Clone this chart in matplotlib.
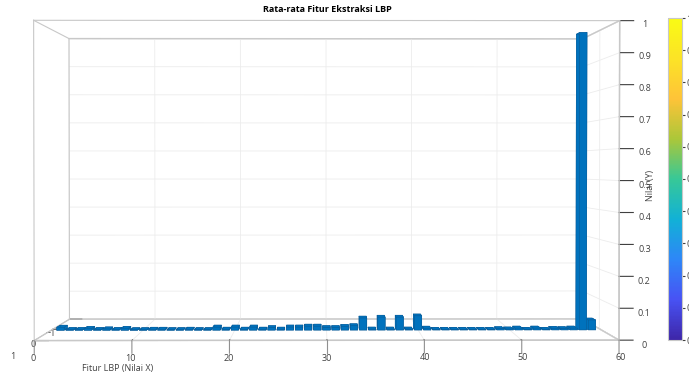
import numpy as np
import matplotlib
matplotlib.use("Agg")
import matplotlib.pyplot as plt
from matplotlib.colors import LinearSegmentedColormap

plt.rcParams['font.family'] = ['Open Sans', 'DejaVu Sans']
plt.rcParams['grid.color'] = '#ececec'
plt.rcParams['grid.linewidth'] = 0.6

# rata-rata histogram LBP (59 bin)
fitur = np.arange(1, 60)
nilai = [0.010, 0.002, 0.002, 0.006, 0.002, 0.004, 0.002, 0.006, 0.001, 0.001,
         0.003, 0.003, 0.001, 0.001, 0.003, 0.001, 0.001, 0.010, 0.003, 0.010,
         0.003, 0.010, 0.003, 0.008, 0.003, 0.010, 0.010, 0.013, 0.013, 0.008,
         0.008, 0.012, 0.014, 0.040, 0.003, 0.043, 0.003, 0.043, 0.003, 0.047,
         0.006, 0.002, 0.002, 0.002, 0.002, 0.002, 0.002, 0.002, 0.004, 0.003,
         0.006, 0.002, 0.006, 0.002, 0.005, 0.004, 0.006, 0.990, 0.033]
x_ticks = [0, 10, 20, 30, 40, 50, 60]
y_ticks = [-1, 0, 1]
z_ticks = np.round(np.arange(0, 1.01, 0.1), 1)

# kira-kira colormap parula
parula = LinearSegmentedColormap.from_list('parula', [
    (0.2422, 0.1504, 0.6603), (0.2810, 0.3228, 0.9579), (0.1786, 0.5289, 0.9682),
    (0.0689, 0.6948, 0.8394), (0.2161, 0.7843, 0.5923), (0.6720, 0.7793, 0.2227),
    (0.9970, 0.7659, 0.2199), (0.9871, 0.8889, 0.1500), (0.9769, 0.9839, 0.0805)])

fig = plt.figure(figsize=(6.89, 3.76), dpi=100)
# axes 3D dibuat persegi besar supaya tidak ada yang terpotong
side = 700
cx, cy = 317, 186.8
ax = fig.add_axes([(cx - side / 2) / 689, (cy - side / 2) / 376, side / 689, side / 376],
                  projection='3d')
ax.patch.set_alpha(0)
zoom = 1.61 * 391 / side
ax.set_proj_type('persp', focal_length=0.4 * zoom)
ax.view_init(elev=0.5, azim=-90.3)
ax.set_box_aspect((1.83, 0.6, 1), zoom=zoom)

w, d = 0.8, 0.2
bars = ax.bar3d(fitur - w / 2, np.full(len(fitur), -d / 2), np.zeros(len(fitur)),
                w, d, nilai, color='#0072BD', shade=False, edgecolor='#0a5a96', linewidth=0.3)

ax.set_xlim(0, 60)
ax.set_ylim(1, -1)
ax.set_zlim(0, 1)
ax.set_xticks(x_ticks)
ax.set_yticks(y_ticks)
ax.set_zticks(z_ticks)
ax.set_zticklabels([f'{v:g}' for v in z_ticks])
ax.tick_params(labelsize=6.5, colors='#404040')
ax.xaxis.set_tick_params(pad=2)
ax.yaxis.set_tick_params(pad=1.5)
ax.zaxis.set_tick_params(pad=2.5)
ax.zaxis.set_ticks_position('upper')
for axis in (ax.xaxis, ax.yaxis, ax.zaxis):
    axis._axinfo['tick']['inward_factor'] = 0.0
    axis._axinfo['tick']['outward_factor'] = 0.3
    axis._axinfo['tick']['color'] = '#909090'

# garis tick sumbu X ke bawah
for xt in x_ticks:
    ax.plot((xt, xt), (1, 1), (0, -0.04), color='#909090', lw=0.8, zorder=10)

# kotak penuh seperti "box on"
xs, ys, zs = (0, 60), (1, -1), (0, 1)
for yy in ys:
    for zz in zs:
        ax.plot(xs, (yy, yy), (zz, zz), color='#c8c8c8', lw=0.8)
for xx in xs:
    for zz in zs:
        ax.plot((xx, xx), ys, (zz, zz), color='#c8c8c8', lw=0.8)
    for yy in ys:
        ax.plot((xx, xx), (yy, yy), zs, color='#c8c8c8', lw=0.8)

for axis in (ax.xaxis, ax.yaxis, ax.zaxis):
    axis.set_pane_color((1, 1, 1, 1))
    axis.pane.set_edgecolor('#c8c8c8')
    axis.line.set_color('#c8c8c8')

fig.text(118 / 689, 1 - 369 / 376, 'Fitur LBP (Nilai X)', fontsize=6.5, color='#404040',
         ha='center', va='center')
fig.text(651 / 689, 1 - 185 / 376, 'Nilai (Y)', fontsize=6.5, color='#404040',
         ha='center', va='center', rotation=90)
fig.text(327 / 689, 1 - 10 / 376, 'Rata-rata Fitur Ekstraksi LBP', fontsize=6.5,
         fontweight='bold', ha='center', va='center')

cax = fig.add_axes([668 / 689, 36 / 376, 14 / 689, 322 / 376])
sm = plt.cm.ScalarMappable(cmap=parula, norm=plt.Normalize(0, 1))
cb = fig.colorbar(sm, cax=cax, ticks=z_ticks)
cb.outline.set_edgecolor('#c8c8c8')
cb.ax.tick_params(labelsize=6.5, colors='#404040', length=2, pad=1)

fig.savefig('out.png', dpi=100)
